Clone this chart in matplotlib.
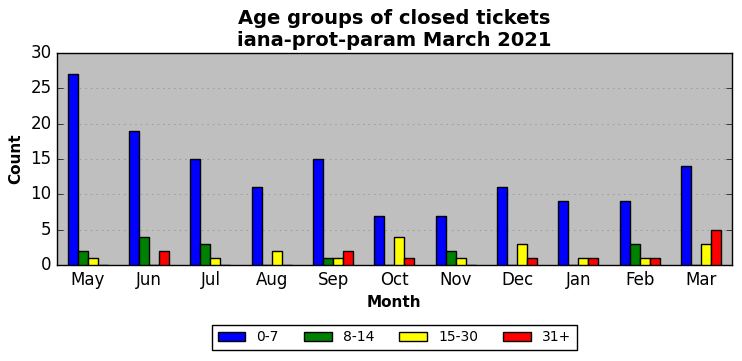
import numpy as np
import matplotlib.pyplot as plt

plt.style.use('classic')

months = ['May', 'Jun', 'Jul', 'Aug', 'Sep', 'Oct', 'Nov', 'Dec', 'Jan', 'Feb', 'Mar']
age_0_7 = [27, 19, 15, 11, 15, 7, 7, 11, 9, 9, 14]
age_8_14 = [2, 4, 3, 0, 1, 0, 2, 0, 0, 3, 0]
age_15_30 = [1, 0, 1, 2, 1, 4, 1, 3, 1, 1, 3]
age_31 = [0, 2, 0, 0, 2, 1, 0, 1, 1, 1, 5]

series = [('0-7', age_0_7, 'blue'), ('8-14', age_8_14, 'green'),
          ('15-30', age_15_30, 'yellow'), ('31+', age_31, 'red')]

fig = plt.figure(figsize=(7.42, 3.61), dpi=100)
fig.patch.set_facecolor('white')
ax = fig.add_axes([0.077, 0.266, 0.909, 0.587])
ax.set_facecolor('#bfbfbf')

x = np.arange(len(months))
w = 0.1625
for i, (lab, vals, col) in enumerate(series):
    ax.bar(x - 0.325 + i * w, vals, w, align='edge', color=col,
           edgecolor='black', linewidth=1, label=lab, zorder=3)

ax.set_xlim(-0.5, len(months) - 0.5)
ax.set_ylim(0, 30)
ax.set_xticks(x)
ax.set_xticklabels(months)
ax.tick_params(axis='x', which='both', top=False, bottom=False)
ax.yaxis.grid(True, linestyle=':', color='#888888', zorder=0)
ax.set_axisbelow(True)
ax.set_xlabel('Month', fontweight='bold', fontsize=11)
ax.set_ylabel('Count', fontweight='bold', fontsize=11)
ax.set_title('Age groups of closed tickets\niana-prot-param March 2021',
             fontweight='bold', fontsize=14)
ax.legend(loc='upper center', bbox_to_anchor=(0.5, -0.25), ncol=4,
          fontsize=10, frameon=True, handlelength=2.0, columnspacing=1.8)

fig.savefig('out.png', dpi=100)
